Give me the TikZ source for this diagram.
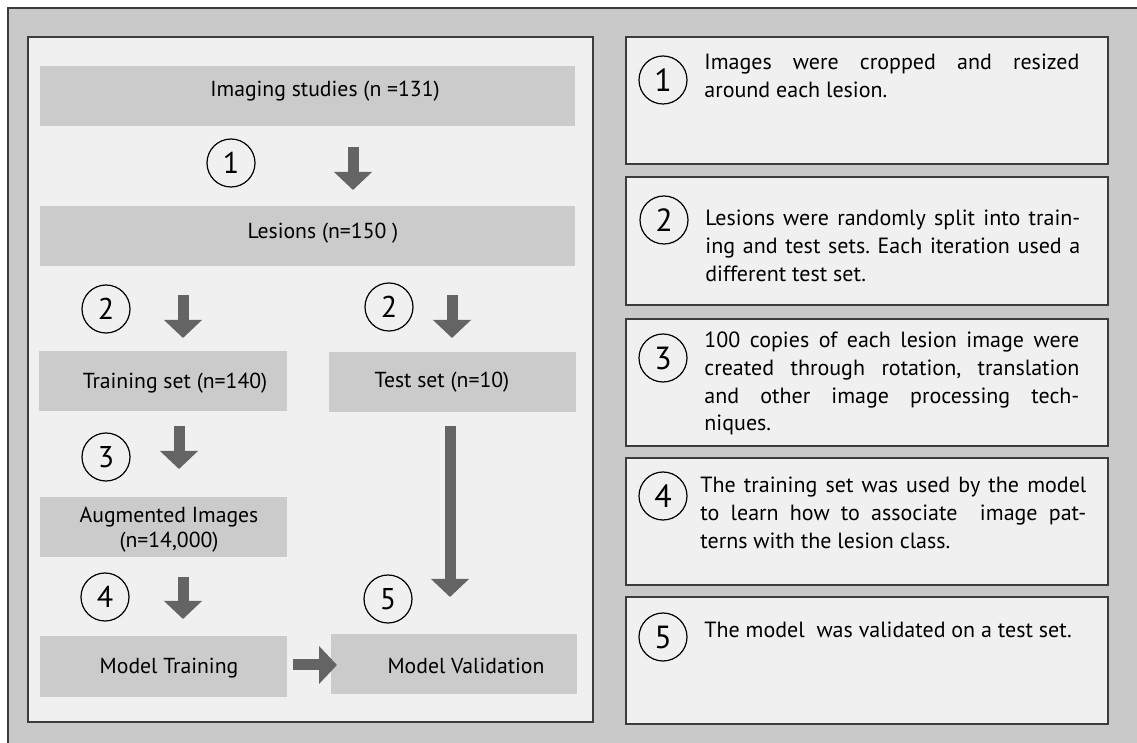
\documentclass[tikz,border=0pt]{standalone}
\usepackage{fontspec}
\setmainfont{PT Sans}
\usetikzlibrary{arrows.meta}
\frenchspacing
\definecolor{outergray}{HTML}{C9C9C9}
\definecolor{panelgray}{HTML}{F0F0F0}
\definecolor{boxgray}{HTML}{CBCBCB}
\definecolor{arrowgray}{HTML}{646464}
\definecolor{framegray}{HTML}{3C3C3C}
\begin{document}
\begin{tikzpicture}[x=0.5pt,y=-0.5pt,
  flowbox/.style={fill=boxgray,draw=none,inner sep=0pt,minimum height=30pt},
  flowtext/.style={anchor=base,inner sep=0pt,font=\fontsize{10.85pt}{13pt}\selectfont},
  notebox/.style={fill=panelgray,draw=framegray,line width=1pt,inner sep=0pt,minimum width=241pt},
  notetext/.style={anchor=base west,inner sep=0pt,align=justify,font=\fontsize{11pt}{13.8pt}\selectfont\frenchspacing},
  numcircle/.style={circle,draw=black,line width=0.6pt,fill=panelgray,minimum size=24pt,inner sep=0pt,font=\fontsize{15pt}{17pt}\selectfont},
  blockarrow/.style={draw=arrowgray,line width=5.5pt,line cap=butt,-{Triangle[width=18.5pt,length=9pt]},arrowgray}
]
\useasboundingbox (0,0) rectangle (1137,743);
% outer frame
\fill[outergray] (8,8) rectangle (1137,743);
\draw[framegray,line width=1pt] (8,743) -- (8,8) -- (1137,8);
% left panel
\node[draw=framegray,fill=panelgray,line width=1pt,minimum width=282.5pt,minimum height=342.5pt,inner sep=0pt] (panel) at (310.5,379.5) {};

% flow boxes
\node[flowbox,minimum width=267.5pt] (imaging) at (307.5,96) {};
\node[flowbox,minimum width=267.5pt] (lesions) at (307.5,236) {};
\node[flowbox,minimum width=124pt] (training) at (163,381) {};
\node[flowbox,minimum width=123.5pt] (test) at (452.5,382) {};
\node[flowbox,minimum width=123.5pt] (augmented) at (163.5,527) {};
\node[flowbox,minimum width=123.5pt,minimum height=30.5pt] (mtrain) at (163.5,666.5) {};
\node[flowbox,minimum width=123pt] (mval) at (454,664) {};

% flow texts
\node[flowtext] (timaging) at (325,97) {Imaging studies (n =131)};
\node[flowtext] (tlesions) at (323,239) {Lesions (n=150 )};
\node[flowtext] (ttraining) at (175,389) {Training set (n=140)};
\node[flowtext] (ttest) at (442,388) {Test set (n=10)};
\node[flowtext,align=center] (taug) at (169,548) {Augmented Images\\(n=14,000)};
\node[flowtext] (tmtrain) at (169,674) {Model Training};
\node[flowtext] (tmval) at (466,674) {Model Validation};

% step circles (left)
\node[numcircle] (c1) at (231,163) {1};
\node[numcircle] (c2l) at (106,309) {2};
\node[numcircle] (c2r) at (389,307) {2};
\node[numcircle] (c3) at (106,457) {3};
\node[numcircle] (c4) at (105,597) {4};
\node[numcircle] (c5) at (388,599) {5};

% arrow end points
\coordinate (a1s) at (353,147); \coordinate (a1e) at (353,190);
\coordinate (a2ls) at (183,295); \coordinate (a2le) at (183,338);
\coordinate (a2rs) at (452,295); \coordinate (a2re) at (452,338);
\coordinate (a3s) at (179,426); \coordinate (a3e) at (179,469);
\coordinate (als) at (450,426); \coordinate (ale) at (450,597);
\coordinate (a4s) at (183,577); \coordinate (a4e) at (183,619);
\coordinate (ars) at (293,665); \coordinate (are) at (337,665);

\draw[blockarrow] (a1s) -- (a1e);
\draw[blockarrow] (a2ls) -- (a2le);
\draw[blockarrow] (a2rs) -- (a2re);
\draw[blockarrow] (a3s) -- (a3e);
\draw[blockarrow] (als) -- (ale);
\draw[blockarrow] (a4s) -- (a4e);
\draw[blockarrow] (ars) -- (are);

% right column boxes
\node[notebox,minimum height=63.5pt] (n1) at (867,100.5) {};
\node[notebox,minimum height=64pt] (n2) at (867,241) {};
\node[notebox,minimum height=63.5pt] (n3) at (867,382.5) {};
\node[notebox,minimum height=63.5pt] (n4) at (867,521.5) {};
\node[notebox,minimum height=63.5pt] (n5) at (867,660.5) {};

\node[numcircle,font=\fontsize{16pt}{18pt}\selectfont] (r1) at (663,80) {1};
\node[numcircle,font=\fontsize{16pt}{18pt}\selectfont] (r2) at (664,220) {2};
\node[numcircle,font=\fontsize{16pt}{18pt}\selectfont] (r3) at (663,358) {3};
\node[numcircle,font=\fontsize{16pt}{18pt}\selectfont] (r4) at (663,496) {4};
\node[numcircle,font=\fontsize{16pt}{18pt}\selectfont] (r5) at (663,637) {5};

\node[notetext,text width=187.5pt] (t1) at (704,70) {Images were cropped and resized\linebreak around each lesion.};
\node[notetext,text width=187.5pt] (t2) at (705,226) {Lesions were randomly split into train-\linebreak ing and test sets. Each iteration used a\linebreak different test set.};
\node[notetext,text width=187.5pt] (t3) at (704,348) {100 copies of each lesion image were\linebreak created through rotation, translation\linebreak and other image processing tech-\linebreak niques.};
\node[notetext,text width=193pt] (t4) at (700,493) {The training set was used by the model\linebreak to learn how to associate\ \ image pat-\linebreak terns with the lesion class.};
\node[notetext,text width=187.5pt] (t5) at (704,638) {The model\ \ was validated on a test set.};
\end{tikzpicture}
\end{document}
